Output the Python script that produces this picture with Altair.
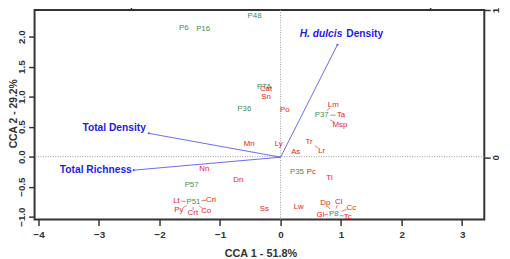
import altair as alt
import pandas as pd

# ---------------- data ----------------
site_names = ["P6", "P16", "P48", "PTA", "P36", "P37", "P35", "P57", "P51", "P8"]
site_cca1 = [-1.60, -1.28, -0.43, -0.27, -0.60, 0.68, 0.27, -1.47, -1.44, 0.88]
site_cca2 = [2.15, 2.13, 2.34, 1.16, 0.80, 0.69, -0.26, -0.47, -0.75, -0.96]

species_names = ["Cat", "Sn", "Po", "Mn", "Ly", "As", "Tr", "Lr", "Lm", "Ta", "Msp",
                 "Pc", "Tl", "Lw", "Dp", "Cl", "Cc", "Gl", "Tc", "Nn", "Dn",
                 "Lt", "Py", "Crt", "Co", "Cri", "Ss"]
species_cca1 = [-0.24, -0.24, 0.07, -0.52, -0.03, 0.25, 0.47, 0.68, 0.87, 1.00, 0.98,
                0.51, 0.81, 0.30, 0.74, 0.96, 1.17, 0.66, 1.11, -1.26, -0.70,
                -1.72, -1.68, -1.45, -1.23, -1.15, -0.27]
species_cca2 = [1.13, 1.00, 0.77, 0.21, 0.21, 0.08, 0.25, 0.10, 0.86, 0.69, 0.52,
                -0.26, -0.35, -0.84, -0.77, -0.75, -0.85, -0.97, -1.00, -0.21, -0.39,
                -0.74, -0.89, -0.94, -0.91, -0.72, -0.87]

connect_from = ["P37", "P37", "P37", "Tr", "P51", "P51", "P51", "P51", "P51",
                "P8", "P8", "P8", "P8", "P8"]
connect_to = ["Lm", "Ta", "Msp", "Lr", "Lt", "Py", "Crt", "Co", "Cri",
              "Gl", "Dp", "Cl", "Cc", "Tc"]

arrow_names = ["H. dulcis Density", "Total Density", "Total Richness"]
arrow_cca1 = [0.381, -0.884, -0.985]
arrow_cca2 = [0.764, 0.162, -0.088]

x_ticks = [-4, -3, -2, -1, 0, 1, 2, 3]
y_ticks = [-1.0, -0.5, 0.0, 0.5, 1.0, 1.5, 2.0]
x2_ticks = [-1, 1]
y2_ticks = [0, 1]

X_DOM = [-4.065, 3.366]
Y_DOM = [-1.049, 2.443]
X2_DOM = [-1.650, 1.366]
Y2_DOM = [-0.424, 1.0]

FONT = "Liberation Sans"
GREEN = "#3f8f57"
RED = "#f01818"
BLUE_T = "#1c1ce8"
BLUE_L = "#5a5aee"

# ---------------- tables ----------------
sites = pd.DataFrame({"name": site_names, "c1": site_cca1, "c2": site_cca2})
species = pd.DataFrame({"name": species_names, "c1": species_cca1, "c2": species_cca2})
pos = {n: (a, b) for n, a, b in zip(site_names + species_names,
                                    site_cca1 + species_cca1,
                                    site_cca2 + species_cca2)}
f1, f2 = 0.45, 0.72
segs = pd.DataFrame([
    {"c1": pos[a][0] + f1 * (pos[b][0] - pos[a][0]),
     "c2": pos[a][1] + f1 * (pos[b][1] - pos[a][1]),
     "e1": pos[a][0] + f2 * (pos[b][0] - pos[a][0]),
     "e2": pos[a][1] + f2 * (pos[b][1] - pos[a][1])}
    for a, b in zip(connect_from, connect_to)
])
arrows = pd.DataFrame({"name": arrow_names, "c1": arrow_cca1, "c2": arrow_cca2})
zero = pd.DataFrame({"v": [0.0]})

# ---------------- scales / axes ----------------
xs = alt.Scale(domain=X_DOM, nice=False, zero=False)
ys = alt.Scale(domain=Y_DOM, nice=False, zero=False)
x2s = alt.Scale(domain=X2_DOM, nice=False, zero=False)
y2s = alt.Scale(domain=Y2_DOM, nice=False, zero=False)

x_axis = alt.Axis(title="CCA 1 - 51.8%", values=x_ticks, format="d", orient="bottom",
                  labelPadding=4, titleX=229.5, titleY=37, titleAlign="center",
                  titleBaseline="alphabetic")
y_axis = alt.Axis(title="CCA 2 - 29.2%", values=y_ticks, format=".1f", orient="left",
                  labelAngle=-90, labelAlign="center", labelBaseline="alphabetic",
                  labelPadding=4.5, titleAngle=-90, titleX=-18.3, titleY=105,
                  titleAlign="center", titleBaseline="alphabetic", titleFontSize=10.5)
x2_axis = alt.Axis(title="", values=x2_ticks, orient="top", labels=False)
y2_axis = alt.Axis(title="", values=y2_ticks, format="d", orient="right",
                   labelAngle=-90, labelAlign="center", labelBaseline="alphabetic",
                   labelPadding=8)

X = lambda f: alt.X(f, scale=xs, axis=x_axis)
Y = lambda f: alt.Y(f, scale=ys, axis=y_axis)

vline = alt.Chart(zero).mark_rule(color="#9a9a9a", strokeDash=[1, 1.5], strokeWidth=1).encode(
    x=X("v:Q"))
hline = alt.Chart(zero).mark_rule(color="#9a9a9a", strokeDash=[1, 1.5], strokeWidth=1).encode(
    y=Y("v:Q"))

site_txt = alt.Chart(sites).mark_text(font=FONT, fontSize=8, color=GREEN,
                                      baseline="middle").encode(
    x=X("c1:Q"), y=Y("c2:Q"), text="name:N")

conn = alt.Chart(segs).mark_rule(color="#f05050", strokeWidth=0.8).encode(
    x=X("c1:Q"), y=Y("c2:Q"), x2="e1:Q", y2="e2:Q")

spec_txt = alt.Chart(species).mark_text(font=FONT, fontSize=8, color=RED,
                                        baseline="middle").encode(
    x=X("c1:Q"), y=Y("c2:Q"), text="name:N")

primary = alt.layer(vline, hline, site_txt, conn, spec_txt)

# arrows on the secondary (biplot) scales
X2 = lambda f: alt.X(f, scale=x2s, axis=x2_axis)
Y2 = lambda f: alt.Y(f, scale=y2s, axis=y2_axis)

arr_base = alt.Chart(arrows).transform_calculate(o1="0", o2="0")
arr_lines = arr_base.mark_rule(color=BLUE_L, strokeWidth=0.9).encode(
    x=X2("c1:Q"), y=Y2("c2:Q"), x2="o1:Q", y2="o2:Q")
arr_heads = arr_base.mark_point(filled=True, size=5, color=BLUE_L, opacity=1).encode(
    x=X2("c1:Q"), y=Y2("c2:Q"))

lab = dict(font=FONT, fontSize=10.4, fontWeight="bold", color=BLUE_T, baseline="middle")
td_lab = arr_base.transform_filter(alt.datum.name == "Total Density").mark_text(
    align="right", dx=-3, dy=-5, **lab).encode(x=X2("c1:Q"), y=Y2("c2:Q"), text="name:N")
tr_lab = arr_base.transform_filter(alt.datum.name == "Total Richness").mark_text(
    align="right", dx=-2, dy=0, **lab).encode(x=X2("c1:Q"), y=Y2("c2:Q"), text="name:N")
hd_it = arr_base.transform_filter(alt.datum.name == "H. dulcis Density").mark_text(
    align="right", dx=5, dy=-11, fontStyle="italic", **lab).encode(
    x=X2("c1:Q"), y=Y2("c2:Q"), text=alt.value("H. dulcis"))
hd_rest = arr_base.transform_filter(alt.datum.name == "H. dulcis Density").mark_text(
    align="left", dx=9, dy=-11, **lab).encode(
    x=X2("c1:Q"), y=Y2("c2:Q"), text=alt.value("Density"))

secondary = alt.layer(arr_lines, arr_heads, td_lab, tr_lab, hd_it, hd_rest)

chart = alt.layer(primary, secondary).resolve_scale(
    x="independent", y="independent"
).properties(
    width=457, height=213,
    autosize=alt.AutoSizeParams(type="none"),
    padding={"left": 27, "top": 0, "right": 18, "bottom": 38},
).configure_view(
    stroke="#333333", strokeWidth=2
).configure_axis(
    grid=False, domain=False, tickColor="#333333", tickWidth=1.5, tickSize=6,
    labelFont=FONT, labelFontSize=10, labelFontWeight="bold", labelColor="#333333",
    titleFont=FONT, titleFontSize=11, titleFontWeight="bold", titleColor="#333333",
)

chart.save("out.html", embed_options={"renderer": "svg", "actions": False})
